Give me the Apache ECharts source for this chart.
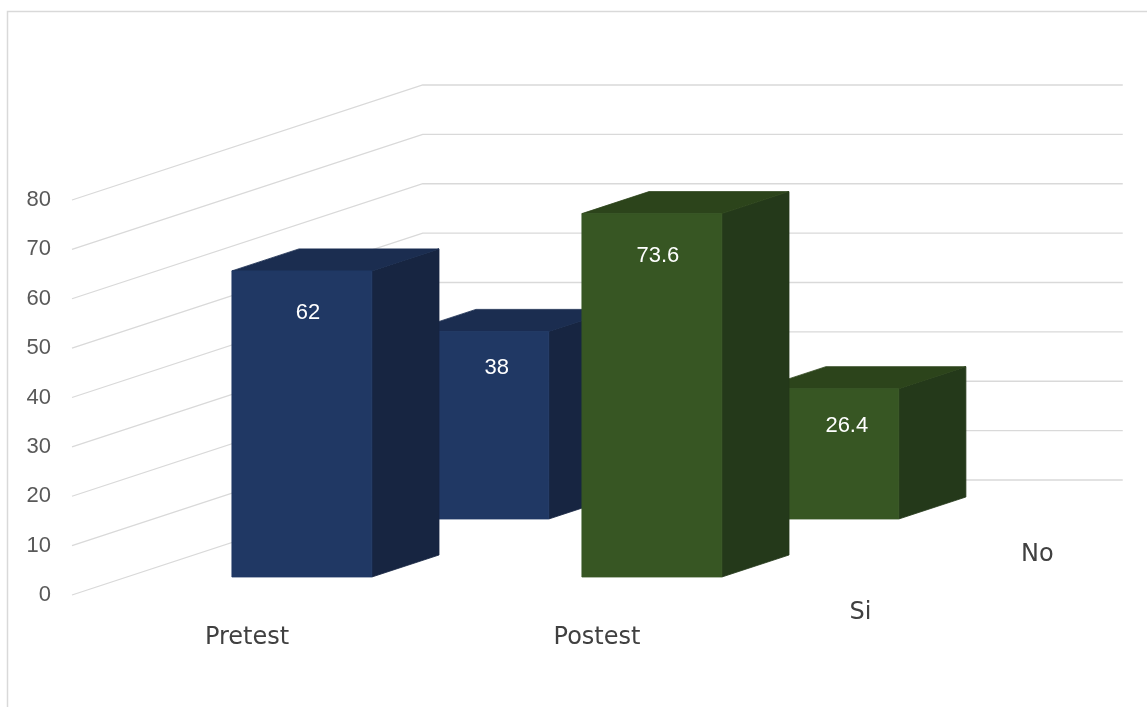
<!DOCTYPE html>
<html>
<head>
<meta charset="utf-8">
<title>Pretest / Postest</title>
<script src="https://cdn.jsdelivr.net/npm/echarts@6/dist/echarts.min.js"></script>
<style>
  html, body { margin: 0; padding: 0; background: #ffffff; }
  #chart { width: 1147px; height: 707px; }
</style>
</head>
<body>
<div id="chart"></div>
<script>
// Values
const categories = ['Pretest', 'Postest'];
const seriesNames = ['Si', 'No'];
const siValues = [62, 73.6];
const noValues = [38, 26.4];
const yTicks = [0, 10, 20, 30, 40, 50, 60, 70, 80];

// Oblique projection: a point pushed back by d pixels moves up by d and right by d*K
const K = 3.05;
const WALL_DEPTH = 115;
const ROWS = {
  Si: { front: 18, back: 40, labelDx: 6, labelDy: 42 },
  No: { front: 76, back: 98, labelDx: 18, labelDy: 37 }
};
const GRID = { left: 72, top: 200, width: 700, height: 395 };

// Category colours: front, side and top faces
const palette = [
  { front: '#203864', side: '#172541', top: '#1b2d50' },
  { front: '#375623', side: '#24391a', top: '#2c441b' }
];

const gridColor = '#d9d9d9';
const labelFont = '24px "DejaVu Sans", sans-serif';

function wallRender(params, api) {
  const cs = params.coordSys;
  const p = api.coord([0, api.value(1)]);
  const y = p[1];
  const x0 = cs.x;
  const bx = x0 + WALL_DEPTH * K;
  const by = y - WALL_DEPTH;
  return {
    type: 'polyline',
    shape: { points: [[x0, y], [bx, by], [bx + cs.width, by]] },
    style: { stroke: gridColor, lineWidth: 1.3, fill: null },
    silent: true
  };
}

function face(points, color) {
  return {
    type: 'polygon',
    shape: { points: points },
    style: { fill: color, stroke: color, lineWidth: 0.8, lineJoin: 'miter' }
  };
}

function barRenderer(rowName) {
  const row = ROWS[rowName];
  return function (params, api) {
    const ci = api.value(0);
    const val = api.value(1);
    const top = api.coord([ci, val]);
    const base = api.coord([ci, 0]);
    const hw = api.size([1, 0])[0] * 0.2;
    const colors = palette[ci];
    const sx = row.front * K;
    const x1 = top[0] - hw + sx;
    const x2 = top[0] + hw + sx;
    const yt = top[1] - row.front;
    const yb = base[1] - row.front;
    const dd = row.back - row.front;
    const ddx = dd * K;
    return {
      type: 'group',
      children: [
        face([[x2, yb], [x2, yt], [x2 + ddx, yt - dd], [x2 + ddx, yb - dd]], colors.side),
        face([[x1, yt], [x2, yt], [x2 + ddx, yt - dd], [x1 + ddx, yt - dd]], colors.top),
        face([[x1, yt], [x2, yt], [x2, yb], [x1, yb]], colors.front),
        {
          type: 'text',
          style: {
            text: String(val),
            x: (x1 + x2) / 2 + row.labelDx,
            y: yt + row.labelDy,
            fill: '#ffffff',
            font: '22px "Liberation Sans", Arial, sans-serif',
            align: 'center',
            verticalAlign: 'middle'
          }
        }
      ]
    };
  };
}

// Depth-axis labels sit along the right edge of the floor, mid-way through each row
function depthLabel(name) {
  const row = ROWS[name];
  const mid = (row.front + row.back) / 2;
  return {
    type: 'text',
    x: GRID.left + GRID.width + mid * K,
    y: GRID.top + GRID.height - mid + 47,
    style: {
      text: name,
      fill: '#404040',
      font: labelFont,
      align: 'center',
      verticalAlign: 'middle'
    },
    silent: true
  };
}

const chart = echarts.init(document.getElementById('chart'), null, { renderer: 'canvas' });

chart.setOption({
  animation: false,
  backgroundColor: '#ffffff',
  grid: {
    left: GRID.left,
    top: GRID.top,
    width: GRID.width,
    height: GRID.height,
    containLabel: false
  },
  xAxis: {
    type: 'category',
    data: categories,
    axisLine: { show: false },
    axisTick: { show: false },
    splitLine: { show: false },
    axisLabel: {
      margin: 31,
      color: '#404040',
      fontFamily: '"DejaVu Sans", sans-serif',
      fontSize: 24
    }
  },
  yAxis: {
    type: 'value',
    min: 0,
    max: 80,
    interval: 10,
    axisLine: { show: false },
    axisTick: { show: false },
    splitLine: { show: false },
    axisLabel: {
      margin: 21,
      color: '#595959',
      fontFamily: '"Liberation Sans", Arial, sans-serif',
      fontSize: 22
    }
  },
  graphic: [
    {
      type: 'rect',
      shape: { x: 7.5, y: 11.5, width: 1200, height: 800 },
      style: { fill: null, stroke: gridColor, lineWidth: 1.5 },
      silent: true,
      z: -10
    },
    depthLabel('Si'),
    depthLabel('No')
  ],
  series: [
    {
      type: 'custom',
      name: 'wall',
      clip: false,
      silent: true,
      z: 1,
      renderItem: wallRender,
      data: yTicks.map(v => [0, v])
    },
    {
      type: 'custom',
      name: seriesNames[1],
      clip: false,
      z: 2,
      renderItem: barRenderer('No'),
      data: noValues.map((v, i) => [i, v])
    },
    {
      type: 'custom',
      name: seriesNames[0],
      clip: false,
      z: 3,
      renderItem: barRenderer('Si'),
      data: siValues.map((v, i) => [i, v])
    }
  ]
});
</script>
</body>
</html>
